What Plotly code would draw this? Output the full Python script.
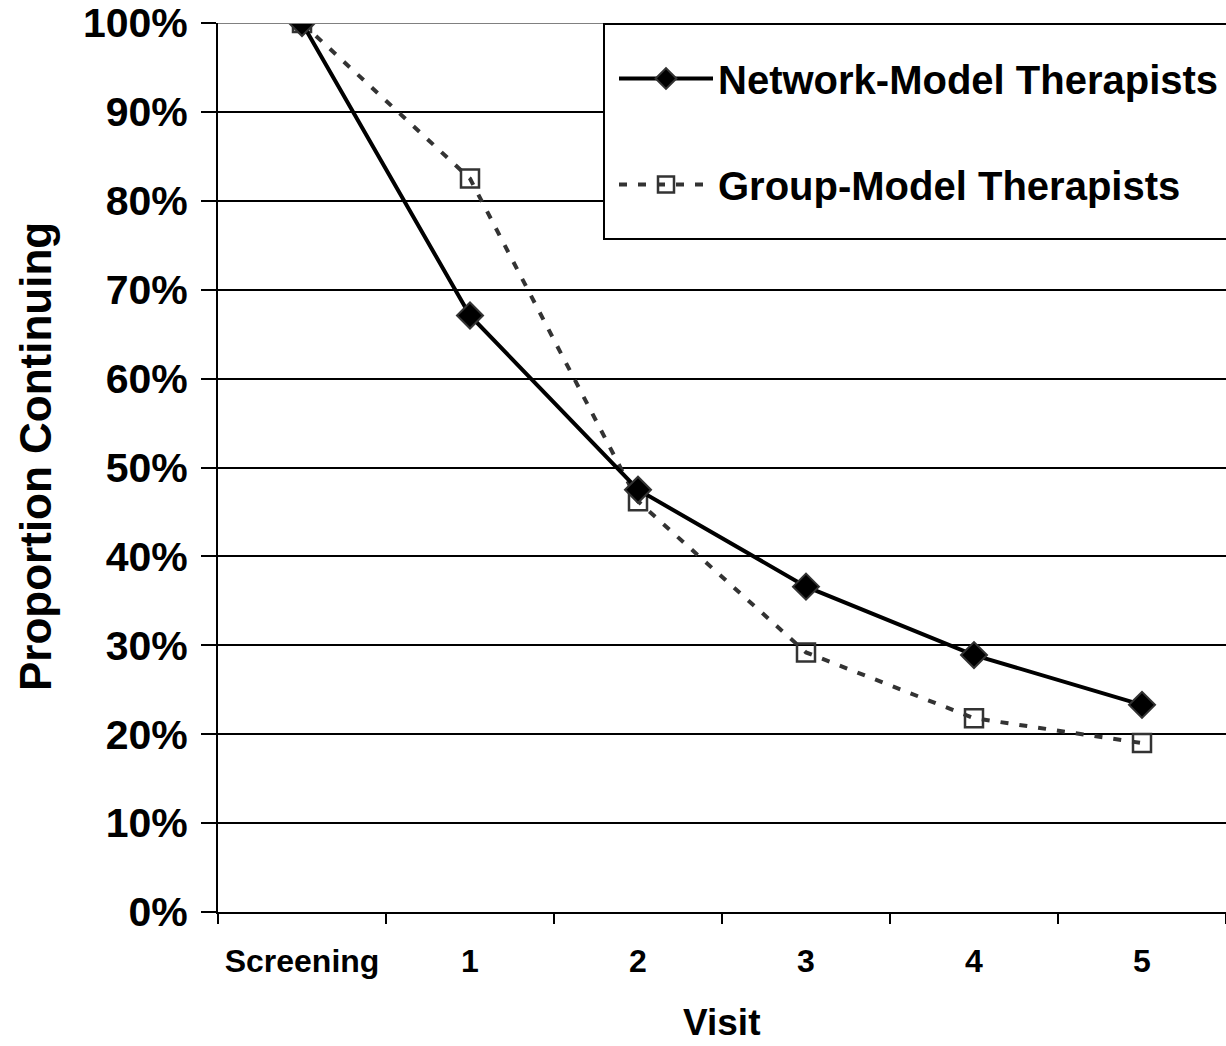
import plotly.graph_objects as go

# Visit categories and proportion of patients continuing
visits = ["Screening", "1", "2", "3", "4", "5"]
network_model = [1.000, 0.671, 0.475, 0.366, 0.289, 0.233]
group_model = [1.000, 0.825, 0.462, 0.292, 0.218, 0.190]

y_ticks = [0.0, 0.1, 0.2, 0.3, 0.4, 0.5, 0.6, 0.7, 0.8, 0.9, 1.0]
y_tick_labels = ["0%", "10%", "20%", "30%", "40%", "50%", "60%", "70%", "80%", "90%", "100%"]

FONT = "Liberation Sans, Arial, sans-serif"

# plot area in pixels
L, T, B = 218, 23, 134
W, H = 1226, 1046
PW, PH = W - L, H - T - B


def px_x(x):
    return (x - L) / PW


def px_y(y):
    return (H - B - y) / PH


fig = go.Figure()

fig.add_trace(go.Scatter(
    x=visits, y=group_model, name="Group-Model Therapists",
    mode="lines+markers", legendgroup="g", legendrank=2,
    line=dict(color="#333333", width=4, dash="8px,11px"),
    marker=dict(symbol="square-open", size=18, color="#333333",
                line=dict(color="#333333", width=2.5)),
))

fig.add_trace(go.Scatter(
    x=visits, y=network_model, name="Network-Model Therapists",
    mode="lines+markers", legendgroup="n", legendrank=1,
    line=dict(color="black", width=4),
    marker=dict(symbol="diamond", size=20, color="black",
                line=dict(color="#333333", width=2)),
))

fig.update_layout(
    width=W, height=H,
    margin=dict(l=L, r=0, t=T, b=B, autoexpand=False),
    paper_bgcolor="white", plot_bgcolor="white",
    font=dict(family=FONT, color="black"),
    showlegend=True,
    legend=dict(
        x=px_x(614), y=px_y(46), xanchor="left", yanchor="top",
        bgcolor="rgba(0,0,0,0)", borderwidth=0,
        font=dict(family=FONT, size=40, color="black", weight="bold"),
        itemwidth=94, tracegroupgap=51, traceorder="grouped",
    ),
    xaxis=dict(
        type="category", range=[-0.5, 5.5], tickson="boundaries",
        ticks="outside", ticklen=10, tickwidth=2, tickcolor="black",
        showline=True, linecolor="black", linewidth=2,
        showgrid=False, zeroline=False,
        tickfont=dict(family=FONT, size=32, color="black", weight="bold"),
        ticklabelstandoff=20,
    ),
    yaxis=dict(
        range=[0, 1], tickvals=y_ticks, ticktext=y_tick_labels,
        ticks="outside", ticklen=15, tickwidth=2, tickcolor="black",
        showline=True, linecolor="black", linewidth=2,
        showgrid=True, gridcolor="black", gridwidth=2, zeroline=False,
        tickfont=dict(family=FONT, size=41, color="black", weight="bold"),
        ticklabelstandoff=5,
    ),
    annotations=[
        dict(text="<b>Proportion Continuing</b>", xref="paper", yref="paper",
             x=px_x(35), y=px_y(457), xanchor="center", yanchor="middle",
             textangle=-90, showarrow=False,
             font=dict(family=FONT, size=44, color="black")),
        dict(text="<b>Visit</b>", xref="paper", yref="paper",
             x=px_x(721), y=px_y(1022), xanchor="center", yanchor="middle",
             showarrow=False, font=dict(family=FONT, size=37, color="black")),
    ],
    shapes=[
        # top gridline at 100% is lighter
        dict(type="line", xref="paper", yref="y", x0=0, x1=1, y0=1.0, y1=1.0,
             line=dict(color="#808080", width=2), layer="above"),
        # legend frame
        dict(type="rect", xref="paper", yref="paper",
             x0=px_x(604), x1=px_x(1240), y0=px_y(239), y1=px_y(24),
             fillcolor="white", line=dict(color="black", width=2), layer="above"),
    ],
)

fig.write_html("out.html")
